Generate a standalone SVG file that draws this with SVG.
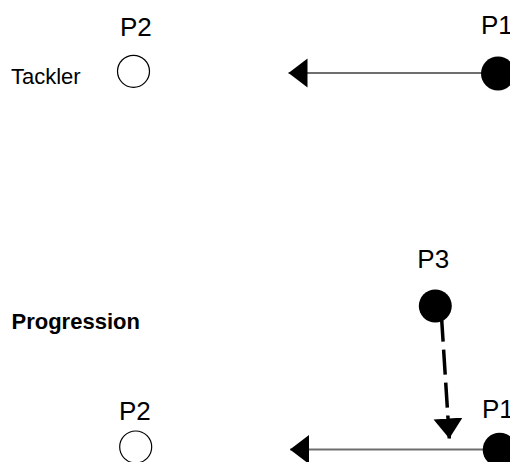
<svg xmlns="http://www.w3.org/2000/svg" width="510" height="462" viewBox="0 0 510 462">
<style>
.lbl{font-family:"Liberation Sans",Arial,sans-serif;font-size:26px;fill:#000}
.cap{font-family:"Liberation Sans",Arial,sans-serif;font-size:22px;fill:#000}
.bold{font-weight:bold}
.open{fill:#fff;stroke:#000;stroke-width:1.2}
.solid{fill:#000;stroke:none}
.run{stroke:#6e6e6e;stroke-width:2;fill:none}
.pass{stroke:#000;stroke-width:3.5;fill:none;stroke-dasharray:25 8}
</style>
<defs>
<marker id="ah" markerUnits="userSpaceOnUse" markerWidth="20" markerHeight="30" refX="19" refY="14.5" orient="auto">
<path d="M0,0 L19,14.5 L0,29 Z" fill="#000"/>
</marker>
<marker id="ah2" markerUnits="userSpaceOnUse" markerWidth="21" markerHeight="30" refX="20" refY="14.5" orient="auto">
<path d="M0,0 L20,14.5 L0,29 Z" fill="#000"/>
</marker>
</defs>
<rect width="510" height="462" fill="#fff"/>
<g id="labels">
<text class="cap" x="11" y="83.5">Tackler</text>
<text class="cap bold" x="11.5" y="328.5">Progression</text>
</g>
<g id="connectors">
<line class="run" x1="498" y1="73" x2="288.5" y2="73" marker-end="url(#ah)"/>
<line class="run" x1="499" y1="449.5" x2="290" y2="449.5" marker-end="url(#ah)"/>
<line class="pass" x1="441.5" y1="316.7" x2="449.3" y2="438.5" marker-end="url(#ah2)"/>
</g>
<g id="p2-top">
<text class="lbl" x="120" y="35.5">P2</text>
<circle class="open" cx="133.5" cy="71.3" r="16"/>
</g>
<g id="p1-top">
<text class="lbl" x="481" y="34">P1</text>
<circle class="solid" cx="498" cy="73.5" r="17"/>
</g>
<g id="p3">
<text class="lbl" x="417.3" y="267.7">P3</text>
<circle class="solid" cx="435.3" cy="306" r="16.5"/>
</g>
<g id="p2-bottom">
<text class="lbl" x="119" y="420">P2</text>
<circle class="open" cx="135.7" cy="447" r="16"/>
</g>
<g id="p1-bottom">
<text class="lbl" x="482" y="418.3">P1</text>
<circle class="solid" cx="499.7" cy="449.7" r="17"/>
</g>
</svg>
